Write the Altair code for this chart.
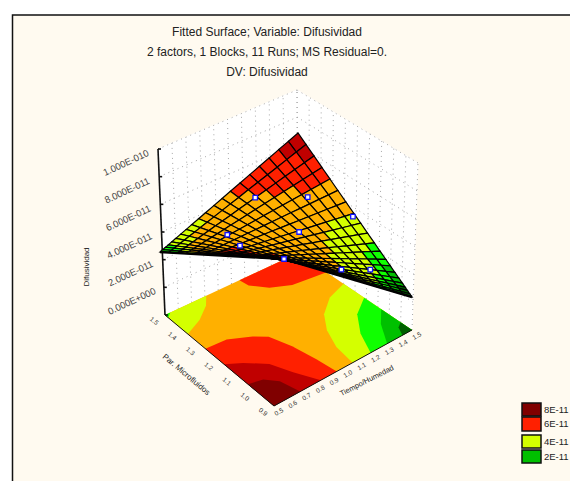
import altair as alt

# ---------- chart values ----------
TITLE_LINES = ["Fitted Surface; Variable: Difusividad",
               "2 factors, 1 Blocks, 11 Runs; MS Residual=0.",
               "DV: Difusividad"]
BAND_COLORS = {"M": "#800000", "D": "#c00000", "R": "#ff2000", "O": "#ffb000",
               "Y": "#d4ff00", "G": "#10ff00", "H": "#00c000", "K": "#006000"}
LEGEND_LABELS = ["8E-11", "6E-11", "4E-11", "2E-11"]
LEGEND_BANDS = ["M", "R", "Y", "H"]
Z_LABELS = ["1.000E-010", "8.000E-011", "6.000E-011", "4.000E-011", "2.000E-011", "0.000E+000"]
X_LABELS = ["1.5", "1.4", "1.3", "1.2", "1.1", "1.0", "0.9"]
Y_LABELS = ["0.5", "0.6", "0.7", "0.8", "0.9", "1.0", "1.1", "1.2", "1.3", "1.4", "1.5"]
X_TITLE = "Par. Microfluidos"
Y_TITLE = "Tiempo/Humedad"
Z_TITLE = "Difusividad"

# contour regions on the base, in factor units (u, v), painted in this order over the orange base
BASE_REGIONS = [
    ("R", [(0, 0), (.63, 0), (.62, .15), (.55, .285), (.49, .355), (.34, .405), (.16, .436), (0, .455)]),
    ("D", [(0, 0), (.46, 0), (.40, .094), (.30, .206), (.157, .264), (0, .34)]),
    ("M", [(0, 0), (.24, 0), (.216, .093), (.144, .157), (0, .19)]),
    ("Y", [(.79, 0), (.85, .136), (.93, .25), (1, .31), (1, 0)]),
    ("G", [(.97, 0), (1, 0), (1, .04)]),
    ("R", [(1, .56), (.93, .57), (.84, .65), (.78, .77), (.76, .92), (.75, 1), (1, 1)]),
    ("Y", [(.6, 1), (.55, .856), (.45, .73), (.325, .648), (.17, .59), (0, .57), (0, 1)]),
    ("G", [(.42, 1), (.325, .87), (.175, .77), (0, .70), (0, 1)]),
    ("H", [(.27, 1), (.165, .91), (0, .82), (0, 1)]),
    ("K", [(.1, 1), (.07, .96), (0, .93), (0, 1)]),
]

# fitted-surface mesh levels and the contour band of each mesh cell (row = u, column = v)
U_LEVELS = [0, .07, .14, .21, .28, .35, .42, .49, .55, .61, .67,
            .72, .77, .81, .85, .885, .915, .94, .96, .98, 1]
V_LEVELS = [0, .07, .14, .21, .28, .35, .42, .49, .55, .61, .67,
            .72, .77, .81, .85, .885, .915, .94, .96, .98, 1]
SURFACE_BANDS = [
    "DDRROOOYYYGGGHHHHKKK",
    "DRRROOOYYYYGGGGGHHHK",
    "RRRROOOYYYYYYYYGGGGH",
    "RRROOOOOYYYYYYYYYYGG",
    "RRROOOOOOYYYYYYYYYYG",
    "RROOOOOOOOOYYYYYYYYY",
    "ROOOOOOOOOOOOOOYYYYY",
    "OOOOOOOOOOOOOOOOOOYY",
    "OOOOOOOOOOOOOOOOOOOY",
    "OOOOOOOOOOOOOOOOOOOO",
    "OOOOOOOOOOOOOOOOOOOO",
    "YOOOOOOOOOOOOOOOOOOO",
    "YOOOOOOOOORRRRROOOOO",
    "YOOOOOOOOORRRRROOOOO",
    "YYOOOORRRRRRRRRROOOO",
    "YYOOOORRRRRRRRRROOOO",
    "YYOOOORRRRRRRRRROOOO",
    "GYYOOORRRRRRRRRROOOO",
    "GGYOOORRRRRRRRRROOOO",
    "GGYYOORRRRRRRRRROOOO",
]
# observed runs, as (u, v) on the surface
RUN_U = [.43, .19, .02, .42, .75, .81, 1.0, .45, .19]
RUN_V = [.14, .31, .505, .50, .27, .44, 1.0, .89, .85]

# ---------- layout of the projection (screen pixels) ----------
FLOOR = {"B": (274, 406), "L": (165, 315), "R": (412, 330), "T": (298, 253)}
SURF = {"A": (298, 133), "L": (160, 252), "R": (412, 297), "F": (284, 259)}
TOPS = {"L": (158, 149), "T": (297, 90), "R": (418, 163)}
Z_STEPS = 6


def bil(c00, c10, c01, c11, u, v):
    return (c00[0] * (1 - u) * (1 - v) + c10[0] * u * (1 - v) + c01[0] * (1 - u) * v + c11[0] * u * v,
            c00[1] * (1 - u) * (1 - v) + c10[1] * u * (1 - v) + c01[1] * (1 - u) * v + c11[1] * u * v)


def floor_pt(u, v):
    return bil(FLOOR["B"], FLOOR["L"], FLOOR["R"], FLOOR["T"], u, v)


def surf_pt(u, v):
    return bil(SURF["A"], SURF["L"], SURF["R"], SURF["F"], u, v)


def left_wall(t, h):
    return bil(FLOOR["L"], FLOOR["T"], TOPS["L"], TOPS["T"], t, h)


def right_wall(t, h):
    return bil(FLOOR["R"], FLOOR["T"], TOPS["R"], TOPS["T"], t, h)


def poly(points, **props):
    ring = [list(p) for p in points]
    ring.append(ring[0])
    return {"type": "Feature", "properties": props,
            "geometry": {"type": "Polygon", "coordinates": [ring]}}


def line(points, **props):
    return {"type": "Feature", "properties": props,
            "geometry": {"type": "LineString", "coordinates": [list(p) for p in points]}}


def geo(features):
    return alt.InlineData(values={"type": "FeatureCollection", "features": features},
                          format=alt.DataFormat(property="features", type="json"))


band_scale = alt.Scale(domain=list(BAND_COLORS), range=list(BAND_COLORS.values()))


def band_color():
    return alt.Color("properties.band:N", scale=band_scale, legend=None)


layers = []

# panel
PANEL = [(12.5, 15), (600, 15), (600, 500), (12.5, 500)]
layers.append(alt.Chart(geo([poly(PANEL)])).mark_geoshape(fill="#fffaf0", stroke="#111", strokeWidth=1.5))

# walls
walls = [poly([left_wall(0, 0), left_wall(1, 0), left_wall(1, 1), left_wall(0, 1)]),
         poly([right_wall(0, 0), right_wall(1, 0), right_wall(1, 1), right_wall(0, 1)])]
layers.append(alt.Chart(geo(walls)).mark_geoshape(fill="white", stroke="white", strokeWidth=1))

# dotted wall grid
grid = []
for i in range(1, Z_STEPS + 1):
    h = i / Z_STEPS
    grid.append(line([left_wall(0, h), left_wall(1, h)]))
    grid.append(line([right_wall(0, h), right_wall(1, h)]))
for i in range(0, 11):
    t = i / 10
    grid.append(line([left_wall(t, 0), left_wall(t, 1)]))
    grid.append(line([right_wall(t, 0), right_wall(t, 1)]))
layers.append(alt.Chart(geo(grid)).mark_geoshape(filled=False, stroke="#a8a8a8", strokeWidth=1, strokeDash=[1, 4]))

# base contours
base = [poly([floor_pt(0, 0), floor_pt(1, 0), floor_pt(1, 1), floor_pt(0, 1)], band="O")]
for band, pts in BASE_REGIONS:
    base.append(poly([floor_pt(u, v) for u, v in pts], band=band))
layers.append(alt.Chart(geo(base)).mark_geoshape(strokeWidth=0).encode(color=band_color()))
edges = [line([floor_pt(1, 0), floor_pt(0, 0), floor_pt(0, 1)])]
layers.append(alt.Chart(geo(edges)).mark_geoshape(filled=False, stroke="#111", strokeWidth=1))

# z axis
axis = [line([left_wall(0, 0), left_wall(0, 1)])]
for i in range(Z_STEPS + 1):
    p = left_wall(0, i / Z_STEPS)
    axis.append(line([p, (p[0] + 3, p[1])]))
layers.append(alt.Chart(geo(axis)).mark_geoshape(filled=False, stroke="#111", strokeWidth=1.6))

# surface cells
cells = []
for i, row in enumerate(SURFACE_BANDS):
    for j, band in enumerate(row):
        u0, u1 = U_LEVELS[i], U_LEVELS[i + 1]
        v0, v1 = V_LEVELS[j], V_LEVELS[j + 1]
        cells.append(poly([surf_pt(u0, v0), surf_pt(u1, v0), surf_pt(u1, v1), surf_pt(u0, v1)], band=band))
layers.append(alt.Chart(geo(cells)).mark_geoshape(stroke="#000", strokeWidth=1.2).encode(color=band_color()))
fold = [line([surf_pt(1, 0), surf_pt(1, 1), surf_pt(0, 1)])]
layers.append(alt.Chart(geo(fold)).mark_geoshape(filled=False, stroke="#000", strokeWidth=2.5))


def pts_data(rows):
    return alt.InlineData(values=rows)


# runs
run_rows = [dict(zip(("lon", "lat"), surf_pt(u, v))) for u, v in zip(RUN_U, RUN_V)]
layers.append(alt.Chart(pts_data(run_rows)).mark_point(shape="square", size=20, fill="white", stroke="#1010ff",
                                                       strokeWidth=1.3, opacity=1).encode(
    longitude="lon:Q", latitude="lat:Q"))


def text_layer(rows, **mark):
    return alt.Chart(pts_data(rows)).mark_text(font="Liberation Sans", **mark).encode(
        longitude="lon:Q", latitude="lat:Q", text="t:N")


# titles
TITLE_X = 267
TITLE_Y = [32, 52, 72]
layers.append(text_layer([{"lon": TITLE_X, "lat": y, "t": t} for y, t in zip(TITLE_Y, TITLE_LINES)],
                         fontSize=12, color="#222", align="center", baseline="middle"))

# z labels
z_rows = []
for i, lab in enumerate(Z_LABELS):
    p = left_wall(0, (Z_STEPS - i) / Z_STEPS)
    z_rows.append({"lon": p[0] - 32, "lat": p[1] + 14, "t": lab})
layers.append(text_layer(z_rows, fontSize=9.5, angle=335, color="#444", align="center", baseline="middle"))
layers.append(text_layer([{"lon": 87, "lat": 267, "t": Z_TITLE}], fontSize=8, angle=270, color="#222",
                         align="center", baseline="middle"))

# floor axes
x_rows = []
for i, lab in enumerate(X_LABELS):
    p = floor_pt(1 - i / (len(X_LABELS) - 1), 0)
    x_rows.append({"lon": p[0] - 11, "lat": p[1] + 6, "t": lab})
layers.append(text_layer(x_rows, fontSize=6.5, angle=40, color="#333", align="center", baseline="middle"))
y_rows = []
for i, lab in enumerate(Y_LABELS):
    p = floor_pt(0, i / (len(Y_LABELS) - 1))
    y_rows.append({"lon": p[0] + 5, "lat": p[1] + 6, "t": lab})
layers.append(text_layer(y_rows, fontSize=6.5, angle=330, color="#333", align="center", baseline="middle"))
layers.append(text_layer([{"lon": 186, "lat": 375, "t": X_TITLE}], fontSize=8, angle=40, color="#222",
                         align="center", baseline="middle"))
layers.append(text_layer([{"lon": 367, "lat": 381, "t": Y_TITLE}], fontSize=7.5, angle=333, color="#222",
                         align="center", baseline="middle"))

# legend
LEG_X0, LEG_X1 = 522, 541
LEG_Y = [(403, 416), (417, 431), (435, 448), (450, 463)]
leg = [poly([(LEG_X0, a), (LEG_X1, a), (LEG_X1, b), (LEG_X0, b)], band=band)
       for (a, b), band in zip(LEG_Y, LEGEND_BANDS)]
layers.append(alt.Chart(geo(leg)).mark_geoshape(stroke="#111", strokeWidth=1.5).encode(color=band_color()))
layers.append(text_layer([{"lon": 544, "lat": (a + b) / 2, "t": t} for (a, b), t in zip(LEG_Y, LEGEND_LABELS)],
                         fontSize=9.5, color="#222", align="left", baseline="middle"))

chart = alt.layer(*layers).project(type="identity", scale=1, translate=[-8, -8]).properties(
    width=562, height=473, padding=0, background="white"
).configure_view(stroke=None)

chart.save("out.html", embed_options={"renderer": "svg", "actions": False})
